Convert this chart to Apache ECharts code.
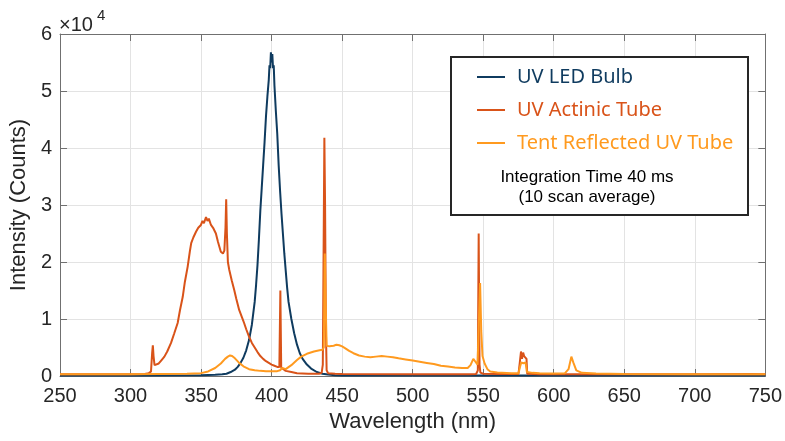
<!DOCTYPE html>
<html>
<head>
<meta charset="utf-8">
<script src="https://cdn.jsdelivr.net/npm/echarts@6/dist/echarts.min.js"></script>
<style>
html,body{margin:0;padding:0;background:#fff;}
#chart{width:785px;height:441px;}
</style>
</head>
<body>
<div id="chart"></div>
<script>
// ---- data (counts) ----
var xTicks = [250, 300, 350, 400, 450, 500, 550, 600, 650, 700, 750];
var yTicks = [0, 1, 2, 3, 4, 5, 6]; // x 10^4

var seriesNames = ['UV LED Bulb', 'UV Actinic Tube', 'Tent Reflected UV Tube'];

var ledWl = [250, 300, 350, 360, 365, 368, 371, 374, 376, 378, 380, 382, 384, 386, 388, 389, 390, 391, 392, 393, 394, 395, 396, 397, 398, 398.5, 399, 399.5, 400, 400.5, 401, 401.5, 402, 403, 404, 405, 406, 407, 408, 409, 410, 411, 412, 414, 416, 418, 420, 422, 425, 428, 432, 436, 440, 445, 450, 500, 600, 750];
var ledVal = [100, 100, 150, 200, 300, 400, 700, 1100, 1600, 2300, 3200, 4500, 6300, 9000, 13000, 16000, 19500, 24000, 29000, 33000, 37000, 41000, 45500, 49000, 52000, 54500, 54000, 56800, 55000, 56500, 54000, 54500, 51000, 46500, 42500, 37000, 32500, 28500, 25000, 21500, 18500, 15500, 13000, 10000, 7500, 5500, 4000, 3000, 2000, 1300, 700, 400, 250, 150, 100, 80, 80, 80];

var actWl = [250, 280, 300, 310, 313, 314.5, 315.3, 315.8, 316.3, 317, 318, 320, 322, 324, 326, 328.7, 331, 333.4, 335, 337, 338.5, 340.5, 342, 343, 344.5, 346.4, 348, 349.9, 351, 352, 353.5, 354.5, 355.5, 357, 358.5, 360.5, 362, 364, 365.5, 366.5, 367.3, 367.8, 368.3, 369, 370, 371.7, 373.5, 375, 377, 379, 380.5, 382, 384, 386, 388, 390, 392, 394, 396, 398, 400, 402, 404, 405.5, 406.2, 406.8, 408, 410, 414, 418, 422, 426, 430, 434, 435.5, 436.3, 436.8, 437.4, 437.9, 438.5, 439, 440, 445, 450, 500, 540, 545, 546.2, 546.8, 547.4, 548, 550, 560, 575, 576, 576.8, 577.5, 578.3, 579, 580, 580.7, 581.2, 590, 620, 700, 740, 750];
var actVal = [300, 300, 300, 350, 500, 800, 4000, 5400, 3500, 1900, 1700, 2200, 2800, 3400, 4300, 5800, 7500, 9300, 11500, 13900, 16500, 19200, 21800, 23300, 24300, 25300, 26000, 26500, 27200, 26800, 27900, 27200, 27600, 26500, 26000, 25000, 23500, 21800, 21500, 22000, 26000, 31000, 25000, 20000, 18600, 16800, 15100, 13500, 11600, 10300, 9300, 8200, 6900, 5800, 5000, 4200, 3500, 3000, 2600, 2300, 2000, 1800, 1600, 1600, 15000, 1500, 1200, 900, 700, 500, 450, 400, 400, 400, 600, 2000, 20000, 41800, 30000, 8000, 1000, 500, 400, 350, 300, 300, 350, 1000, 25000, 2000, 600, 400, 350, 350, 2500, 4300, 3000, 4100, 3500, 3800, 3000, 400, 300, 300, 300, 350, 300];

var tentWl = [250, 300, 340, 350, 355, 360, 364, 367, 369, 370.5, 372, 374, 377, 380, 384, 388, 392, 396, 400, 404, 406, 407.5, 408.5, 410, 414, 418, 421, 425, 430, 434, 436, 437, 437.7, 438.4, 439, 441, 444, 446, 448, 450, 452, 455, 458, 462, 466, 470, 474, 478, 482, 486, 490, 495, 500, 505, 510, 515, 520, 525, 530, 535, 539, 541, 543, 544.5, 546, 547, 547.8, 548.6, 549.5, 551, 553, 555, 560, 570, 575, 576, 577, 578.5, 580, 581, 585, 590, 600, 608, 610.5, 612.5, 614, 616, 620, 630, 650, 700, 750];
var tentVal = [300, 300, 400, 500, 800, 1400, 2200, 3000, 3400, 3600, 3500, 3100, 2300, 1700, 1200, 1000, 900, 850, 850, 850, 1000, 1400, 1200, 1200, 1900, 2800, 3400, 3900, 4300, 4500, 4600, 5000, 21500, 12000, 5300, 5200, 5300, 5500, 5400, 5200, 4900, 4400, 4000, 3600, 3400, 3300, 3400, 3500, 3400, 3300, 3100, 2900, 2700, 2500, 2300, 2100, 1800, 1650, 1500, 1400, 1400, 1900, 3000, 2500, 2000, 10000, 16300, 8000, 3500, 2200, 1200, 800, 600, 500, 500, 1500, 2400, 2200, 2400, 700, 550, 500, 450, 500, 1200, 3400, 2300, 1000, 550, 450, 350, 300, 300];

var colors = ['#0f3b5f', '#d95319', '#ff9a1f'];

function pairs(xs, ys) {
  var out = [];
  for (var i = 0; i < xs.length; i++) out.push([xs[i], ys[i]]);
  return out;
}

var chart = echarts.init(document.getElementById('chart'), null, {renderer: 'canvas'});
var FONT = '"Liberation Sans", Arial, Helvetica, sans-serif';
var axisCol = '#707070';
var txtCol = '#262626';

var option = {
  animation: false,
  backgroundColor: '#ffffff',
  grid: {left: 58.7, right: 19.3, top: 34, bottom: 65, containLabel: false},
  xAxis: [{
    type: 'value', min: 250, max: 750, interval: 50,
    name: 'Wavelength (nm)', nameLocation: 'middle', nameGap: 30,
    nameTextStyle: {fontFamily: FONT, fontSize: 22, color: txtCol},
    axisLine: {show: true, lineStyle: {color: axisCol, width: 1}},
    axisTick: {show: true, inside: true, length: 7, lineStyle: {color: axisCol}},
    axisLabel: {fontFamily: FONT, fontSize: 20, color: txtCol, margin: 10,
      formatter: function (v) { return xTicks.indexOf(v) >= 0 ? String(v) : ''; }},
    splitLine: {show: true, lineStyle: {color: '#e3e3e3', width: 1}}
  }, {
    type: 'value', min: 250, max: 750, interval: 50, position: 'top',
    axisLine: {show: true, onZero: false, lineStyle: {color: axisCol, width: 1}},
    axisTick: {show: true, inside: true, length: 7, lineStyle: {color: axisCol}},
    axisLabel: {show: false}, splitLine: {show: false}
  }],
  yAxis: [{
    type: 'value', min: 0, max: 60000, interval: 10000,
    name: 'Intensity (Counts)', nameLocation: 'middle', nameGap: 23, nameRotate: 90,
    nameTextStyle: {fontFamily: FONT, fontSize: 22, color: txtCol},
    axisLine: {show: true, lineStyle: {color: axisCol, width: 1}},
    axisTick: {show: true, inside: true, length: 7, lineStyle: {color: axisCol}},
    axisLabel: {fontFamily: FONT, fontSize: 20, color: txtCol, margin: 8,
      formatter: function (v) { var t = v / 10000; return yTicks.indexOf(t) >= 0 ? String(t) : ''; }},
    splitLine: {show: true, lineStyle: {color: '#e3e3e3', width: 1}}
  }, {
    type: 'value', min: 0, max: 60000, interval: 10000, position: 'right',
    axisLine: {show: true, onZero: false, lineStyle: {color: axisCol, width: 1}},
    axisTick: {show: true, inside: true, length: 7, lineStyle: {color: axisCol}},
    axisLabel: {show: false}, splitLine: {show: false}
  }],
  legend: {
    orient: 'vertical', left: 477, top: 66, padding: 0,
    itemWidth: 28, itemHeight: 2, itemGap: 11, icon: 'rect',
    z: 5,
    textStyle: {fontFamily: '"Noto Sans", "Open Sans", sans-serif', fontSize: 20, lineHeight: 22, padding: [0, 0, 0, 7]},
    data: [
      {name: seriesNames[0], textStyle: {color: colors[0]}},
      {name: seriesNames[1], textStyle: {color: colors[1]}},
      {name: seriesNames[2], textStyle: {color: colors[2]}}
    ]
  },
  graphic: [
    {type: 'rect', z: 3, shape: {x: 451, y: 57, width: 297, height: 158},
      style: {fill: '#ffffff', stroke: '#262626', lineWidth: 2}},
    {type: 'text', z: 5, x: 587, y: 177,
      style: {text: 'Integration Time 40 ms', fontFamily: FONT, fontSize: 17, fill: '#000', textAlign: 'center', textVerticalAlign: 'middle'}},
    {type: 'text', z: 5, x: 587, y: 197,
      style: {text: '(10 scan average)', fontFamily: FONT, fontSize: 17, fill: '#000', textAlign: 'center', textVerticalAlign: 'middle'}},
    {type: 'text', z: 5, x: 59, y: 25,
      style: {text: '\u00d710', fontFamily: FONT, fontSize: 20, fill: txtCol, textAlign: 'left', textVerticalAlign: 'middle'}},
    {type: 'text', z: 5, x: 97, y: 16,
      style: {text: '4', fontFamily: FONT, fontSize: 15, fill: txtCol, textAlign: 'left', textVerticalAlign: 'middle'}}
  ],
  series: [
    {name: seriesNames[0], type: 'line', data: pairs(ledWl, ledVal), showSymbol: false, symbol: 'none',
      lineStyle: {color: colors[0], width: 2}, itemStyle: {color: colors[0]}, z: 2},
    {name: seriesNames[1], type: 'line', data: pairs(actWl, actVal), showSymbol: false, symbol: 'none',
      lineStyle: {color: colors[1], width: 2}, itemStyle: {color: colors[1]}, z: 3},
    {name: seriesNames[2], type: 'line', data: pairs(tentWl, tentVal), showSymbol: false, symbol: 'none',
      lineStyle: {color: colors[2], width: 2}, itemStyle: {color: colors[2]}, z: 4}
  ]
};
chart.setOption(option);
</script>
</body>
</html>
